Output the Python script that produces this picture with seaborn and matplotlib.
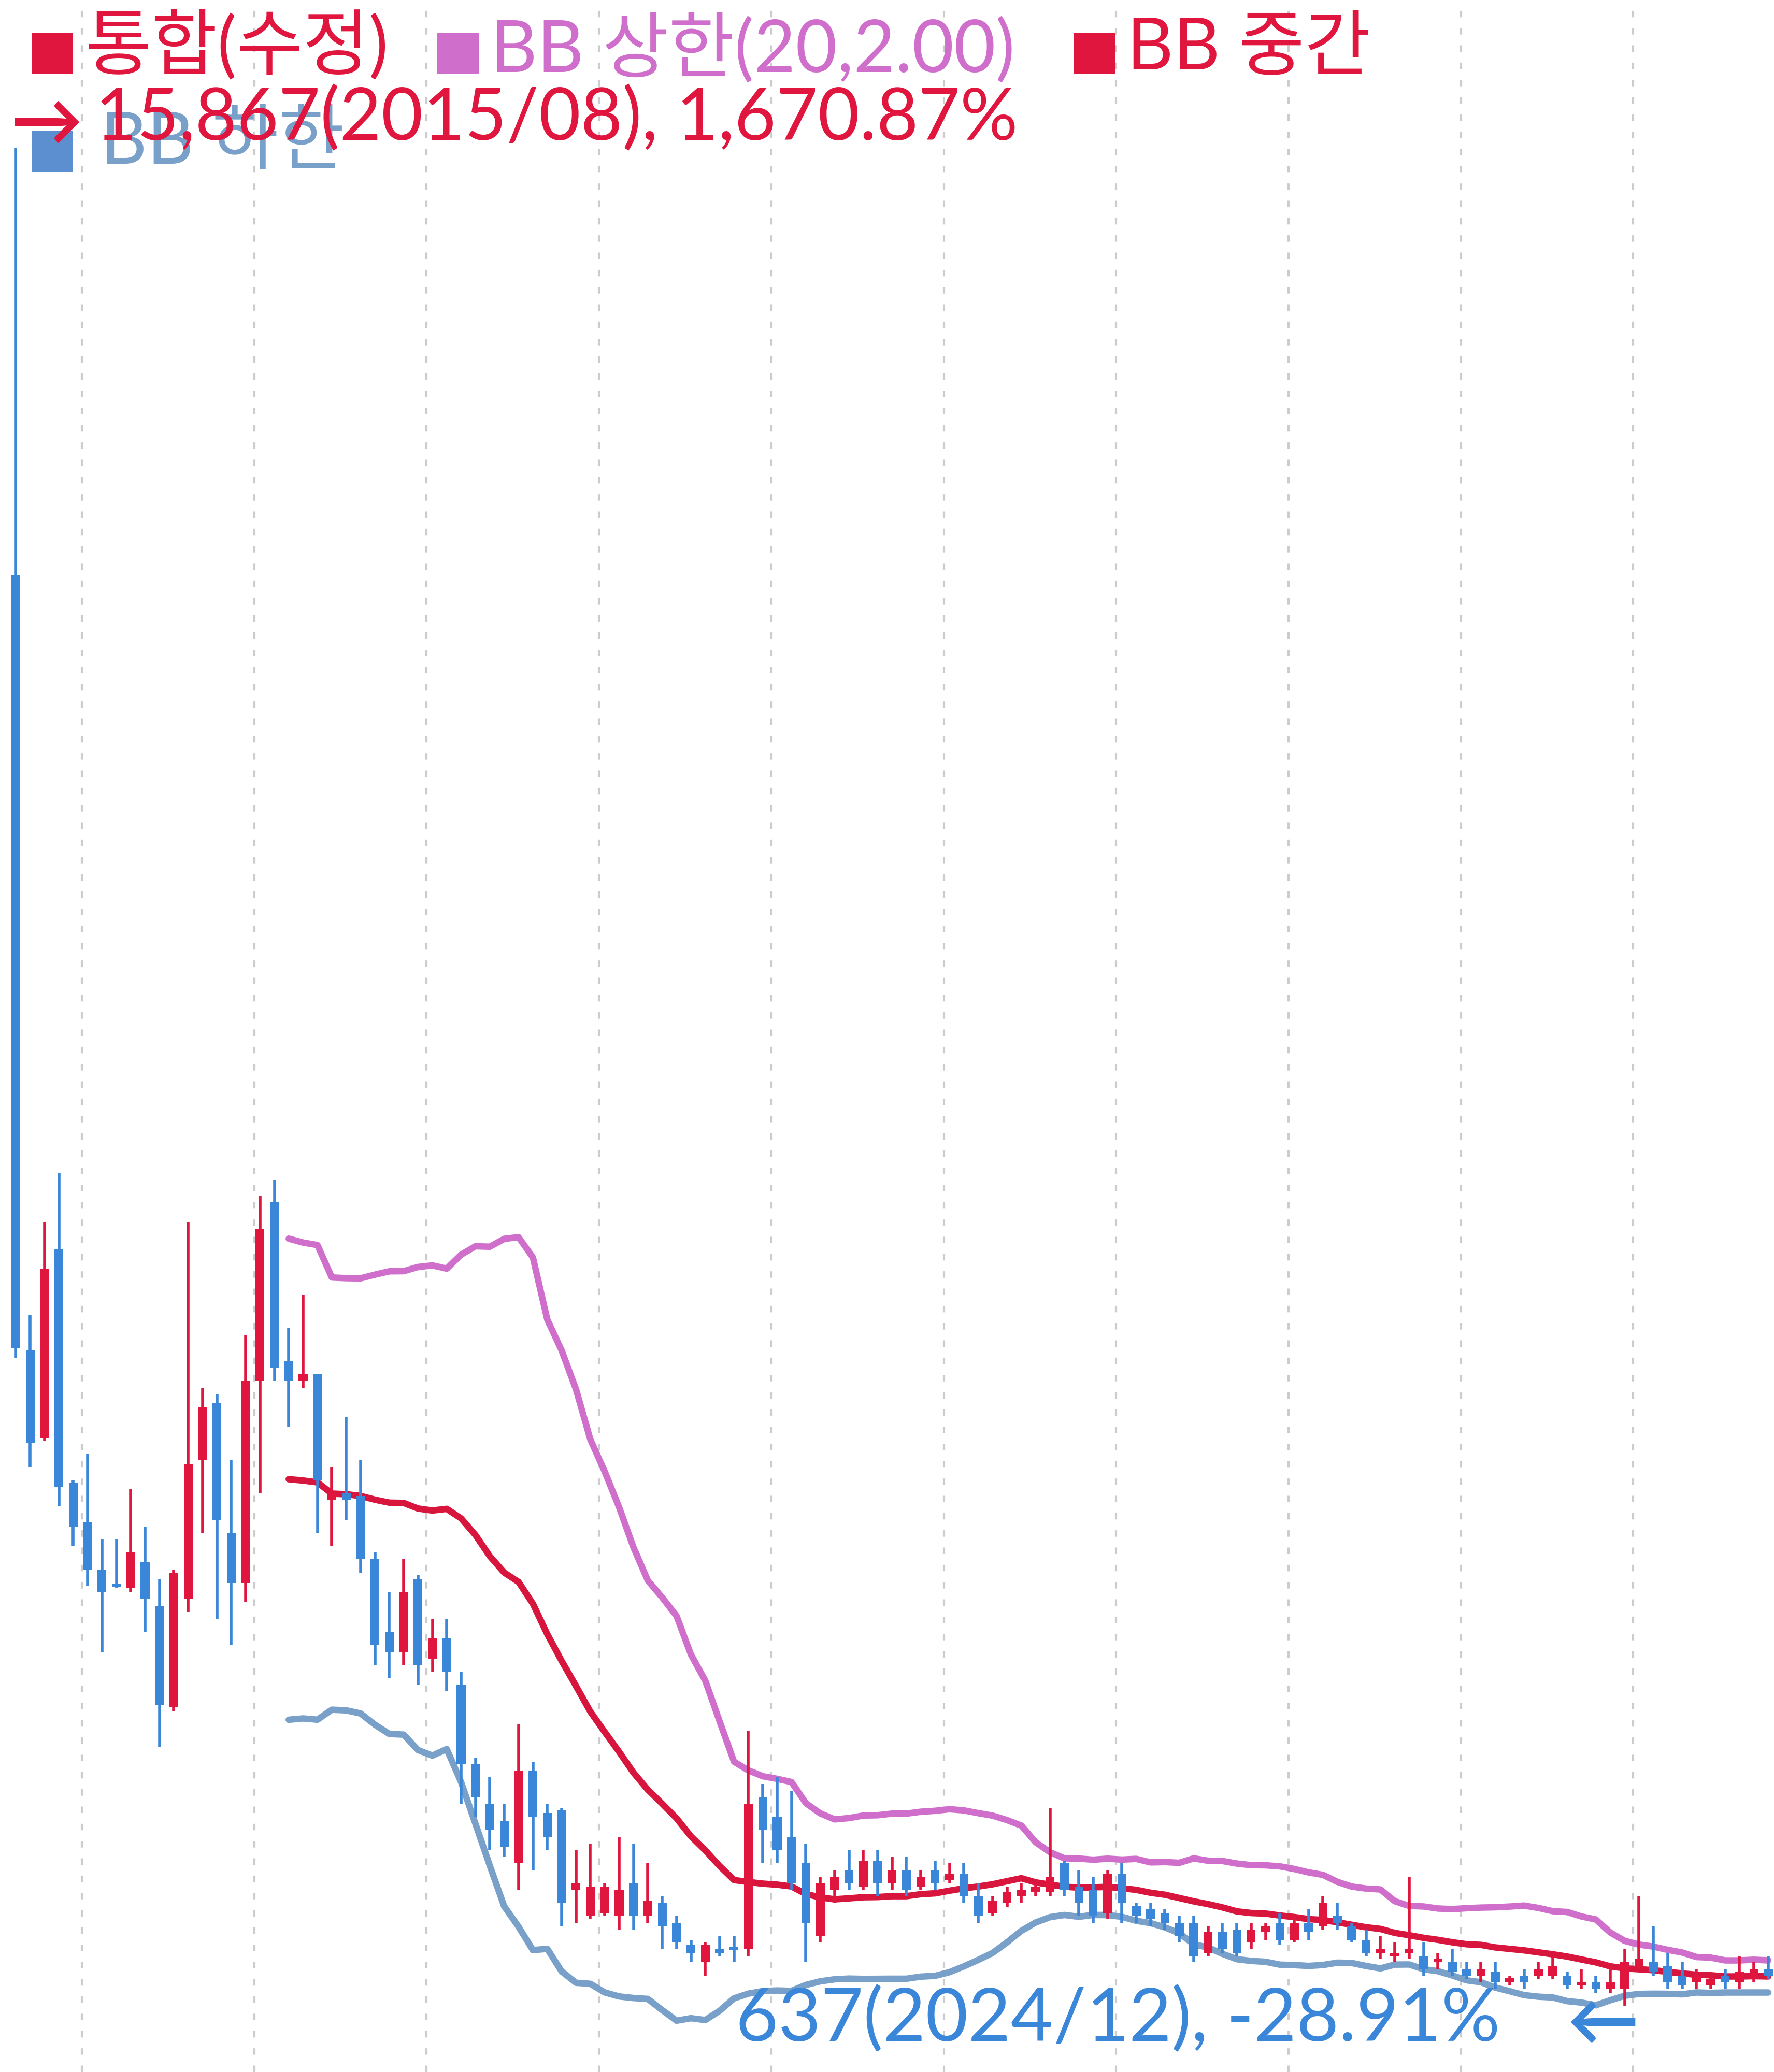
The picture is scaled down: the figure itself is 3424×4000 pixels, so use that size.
import numpy as np
import pandas as pd
import matplotlib
matplotlib.use("Agg")
import matplotlib.pyplot as plt
import seaborn as sns

sns.set_theme(style="white")
plt.rcParams['font.family'] = ['Lato', 'Noto Sans CJK KR', 'DejaVu Sans']

months = pd.period_range("2015-08", periods=123, freq="M").astype(str).tolist()
opens = [12366,6009,5294,6843,4926,4601,4211,4081,4059,4276,3918,3084,3973,5110,5575,4514,4103,5760,7222,5922,
         5760,5814,4785,4839,4817,4298,3702,3539,4135,3485,3648,3269,2619,2294,2153,1807,2565,2218,2240,1590,
         1373,1395,1373,1644,1373,1482,1319,1135,994,1103,1103,1103,2348,2186,2023,1807,1211,1590,1752,1612,
         1828,1644,1752,1612,1752,1666,1720,1536,1395,1482,1536,1568,1568,1807,1612,1590,1395,1720,1460,1428,
         1395,1319,1319,1070,1244,1265,1157,1244,1319,1179,1319,1287,1373,1287,1179,1070,1049,1070,1049,994,
         994,940,886,919,832,886,886,886,886,810,832,778,778,962,994,962,886,832,810,886,832,854,940]
closes = [6030,5251,6680,4893,4568,4211,4027,4070,4352,3973,3106,4189,5077,5543,4622,4103,5760,7005,5868,5760,
          5814,4947,4839,4785,4298,3594,3539,4027,3431,3648,3377,2619,2348,2077,1937,2565,2186,2023,1482,1644,
          1612,1612,1590,1373,1503,1287,1157,1070,1135,1070,1095,2294,2077,1915,1644,1319,1644,1698,1644,1828,
          1644,1752,1590,1698,1644,1720,1536,1373,1503,1568,1590,1612,1698,1590,1482,1373,1720,1482,1373,1352,
          1319,1211,1049,1244,1103,1070,1265,1287,1179,1319,1244,1482,1319,1179,1070,1103,1070,1103,940,1027,
          919,886,940,832,864,832,940,962,810,832,778,832,994,1027,919,832,810,886,854,832,919,940,886]
highs = [15867,6301,7059,7460,4948,5164,4460,4460,4871,4568,4135,4211,7059,5705,5651,5110,6139,7276,7406,6193,
         6464,5814,5056,5467,5110,4352,4027,4298,4168,3810,3810,3377,2673,2511,2294,2944,2640,2294,2262,1915,
         1969,1644,2023,1969,1807,1536,1373,1179,1157,1211,1211,2890,2456,2511,2402,1969,1698,1752,1915,1915,
         1915,1861,1861,1752,1828,1807,1807,1644,1536,1612,1644,1644,2262,1828,1752,1698,1752,1807,1482,1482,
         1428,1373,1373,1287,1319,1319,1319,1319,1395,1373,1428,1536,1482,1319,1265,1211,1157,1698,1157,1070,
         1103,994,994,994,886,940,994,1049,919,940,886,962,1103,1536,1287,1070,994,940,886,940,1049,994,1049]
lows = [5944,5056,5273,4731,4406,4081,3539,4059,4027,3702,2760,3052,3864,4514,3810,3594,3951,4839,5760,5381,
        5705,4514,4406,4622,4189,3431,3323,3431,3269,3377,3215,2294,2186,1915,1861,1590,1752,1915,1287,1319,
        1352,1373,1265,1265,1319,1103,1103,994,886,1049,994,1049,1807,1807,1590,994,1157,1482,1590,1590,
        1536,1590,1536,1590,1590,1644,1482,1319,1373,1449,1482,1536,1536,1536,1373,1319,1352,1319,1319,1287,
        1265,1157,994,1049,1070,1049,1103,1179,1135,1157,1179,1265,1265,1157,1049,1027,994,1027,886,940,
        886,854,832,778,810,778,854,854,778,778,745,745,637,940,886,778,778,778,778,778,778,832,854]

df = pd.DataFrame({"month": months, "open": opens, "high": highs, "low": lows, "close": closes})
df["i"] = np.arange(len(df))
roll = df["close"].rolling(20)
df["mid"] = roll.mean()
df["upper"] = df["mid"] + 2.0 * roll.std(ddof=0)
df["lower"] = df["mid"] - 2.0 * roll.std(ddof=0)

RED = "#e0163e"
BLUE = "#3a86d8"
UPPER_C = "#cf6fcb"
LOWER_C = "#78a0c8"

fig = plt.figure(figsize=(34.24, 40), dpi=100)
ax = fig.add_axes([0, 0, 1, 1])
ax.set_xlim(-1.1, 122.4)
ax.set_ylim(96, 17077)
for s in ax.spines.values():
    s.set_visible(False)
ax.set_xticks([]); ax.set_yticks([])

for g in np.arange(4.6, 120, 12):
    ax.axvline(g, color="#cccccc", lw=3, ls=(0, (3, 5)), zorder=0)

sns.lineplot(data=df, x="i", y="upper", color=UPPER_C, lw=9, ax=ax, zorder=2)
sns.lineplot(data=df, x="i", y="mid", color="#d8153c", lw=9, ax=ax, zorder=2)
sns.lineplot(data=df, x="i", y="lower", color=LOWER_C, lw=9, ax=ax, zorder=2)

cols = [RED if c > o else (BLUE if c < o else "black") for o, c in zip(df["open"], df["close"])]
ax.vlines(df["i"], df["low"], df["high"], colors=cols, lw=4, zorder=3)
bot = np.minimum(df["open"], df["close"])
h = np.maximum(np.abs(df["close"] - df["open"]), 25)
ax.bar(df["i"], h, bottom=bot, width=0.62, color=cols, zorder=4, linewidth=0)

def T(x, y, s, c, size=100, **kw):
    ax.text(x / 1338, 1 - y / 1568, s, color=c, transform=ax.transAxes, fontsize=size, va="center", **kw)

T(20, 118, "■", "#5b8fd0", size=72)
T(76, 108, "BB 하한", LOWER_C)
T(20, 44, "■", RED, size=72)
T(64, 35, "통합(수정)", RED)
T(326, 44, "■", UPPER_C, size=72)
T(370, 37, "BB 상한(20,2.00)", UPPER_C)
T(806, 44, "■", RED, size=72)
T(850, 37, "BB 중간", RED)
T(8, 94, "→", RED, fontweight="bold")
T(72, 90, "15,867(2015/08), 1,670.87%", RED)
T(555, 1528, "637(2024/12), -28.91%", BLUE, size=102)
T(1182, 1532, "←", BLUE, fontweight="bold")

fig.savefig("out.png", dpi=100)
